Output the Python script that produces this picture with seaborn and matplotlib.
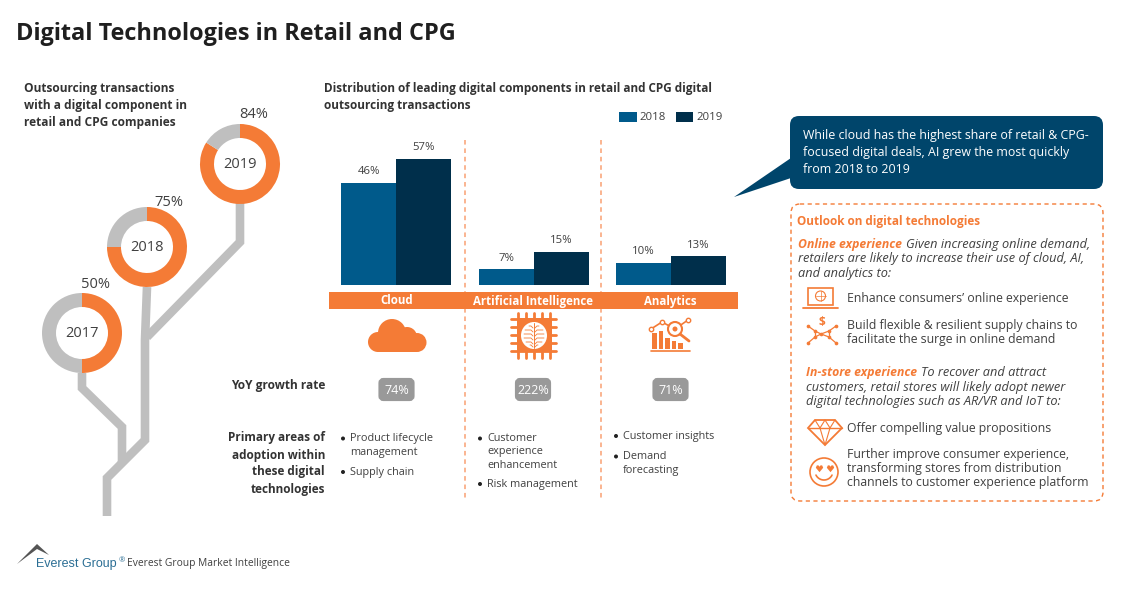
import numpy as np
import pandas as pd
import matplotlib.pyplot as plt
import seaborn as sns
from matplotlib.patches import Circle, Ellipse, FancyBboxPatch, Polygon, Rectangle

sns.set_theme(style="white")
plt.rcParams['font.family'] = ['Open Sans', 'DejaVu Sans']

# data
years = ['2017', '2018', '2019']
digital_share = [50, 75, 84]
categories = ['Cloud', 'Artificial Intelligence', 'Analytics']
share_2018 = [46, 7, 10]
share_2019 = [57, 15, 13]
growth_rate = ['74%', '222%', '71%']

ORANGE = '#F47B36'
GREY = '#BFBFBF'
TEXT = '#404040'
BLUE = '#005A8B'
NAVY = '#002F4B'

W, H = 1130, 591
fig = plt.figure(figsize=(W / 100, H / 100), dpi=100)


def box(left, top, right, bottom):
    return [left / W, 1 - bottom / H, (right - left) / W, (bottom - top) / H]


# full figure axes in pixels, for everything around the charts
bg = fig.add_axes([0, 0, 1, 1])
bg.set_xlim(0, W)
bg.set_ylim(H, 0)
bg.axis('off')


def txt(x, y, s, size=9, color=TEXT, weight='normal', style='normal', ha='left'):
    bg.text(x, y + 1, s, fontsize=size, color=color, fontweight=weight, fontstyle=style,
            ha=ha, va='center')


txt(16, 33, 'Digital Technologies in Retail and CPG', size=16.9, color='#1F1F1F', weight='bold')

# tree behind the donuts
tree = [
    ([82, 82, 122, 122], [373, 388, 427, 462]),
    ([147, 145, 145, 107, 107], [287, 340, 440, 478, 516]),
    ([240, 240, 147], [203, 242, 337]),
]
for xs, ys in tree:
    bg.plot(xs, ys, color=GREY, lw=6.2, solid_joinstyle='miter', solid_capstyle='butt')

for i, line in enumerate(['Outsourcing transactions', 'with a digital component in', 'retail and CPG companies']):
    txt(24.5, 87.5 + i * 17, line, size=8.6, color='#333333', weight='bold')

# donuts
centers = [(82, 333), (147, 247), (240, 164)]
label_pos = [(96, 284), (169, 201), (254, 114)]
for year, share, (cx, cy), (lx, ly) in zip(years, digital_share, centers, label_pos):
    ax = fig.add_axes(box(cx - 40, cy - 40, cx + 40, cy + 40))
    ax.pie([share, 100 - share], colors=[ORANGE, GREY], startangle=90, counterclock=False,
           radius=1, wedgeprops=dict(width=0.35, edgecolor='none'))
    ax.set_xlim(-1, 1)
    ax.set_ylim(-1, 1)
    ax.patch.set_alpha(0)
    ax.text(0, -0.02, year, fontsize=10.5, color=TEXT, ha='center', va='center')
    txt(lx, ly, f'{share}%', size=10.5, ha='center')

# bar chart
for i, line in enumerate(['Distribution of leading digital components in retail and CPG digital',
                          'outsourcing transactions']):
    txt(324, 87.5 + i * 17.5, line, size=8.5, color='#333333', weight='bold')

df = pd.DataFrame({
    'category': categories * 2,
    'year': ['2018'] * 3 + ['2019'] * 3,
    'share': share_2018 + share_2019,
})
bar_ax = fig.add_axes(box(327.5, 135, 740, 285))
sns.barplot(data=df, x='category', y='share', hue='year', palette=[BLUE, NAVY],
            width=0.8, gap=0, saturation=1, linewidth=0, ax=bar_ax)
bar_ax.set_xlim(-0.5, 2.5)
bar_ax.set_ylim(0, 67.6)
bar_ax.patch.set_alpha(0)
bar_ax.axis('off')
for cont in bar_ax.containers:
    bar_ax.bar_label(cont, fmt='%d%%', padding=4, fontsize=8.2, color=TEXT)
bar_ax.legend(loc='center left', bbox_to_anchor=(619 / W, 1 - 117.5 / H), bbox_transform=fig.transFigure,
              ncol=2, frameon=False, fontsize=8.2, handlelength=1.55, handleheight=1.0,
              handletextpad=0.25, columnspacing=0.85, borderpad=0, borderaxespad=0, labelcolor=TEXT)

# separators and band
for x in [465, 601]:
    bg.plot([x, x], [140, 500], color='#F9A173', lw=1.1, dashes=(3, 2.5), zorder=1)
bg.add_patch(Rectangle((329, 292), 409, 17, color=ORANGE, lw=0, zorder=2))
band_x = [396.5, 533, 670.5]
for x, cat in zip(band_x, categories):
    bg.text(x, 301, cat, fontsize=8.3, color='white', fontweight='bold', ha='center', va='center', zorder=3)

# growth rates
txt(325, 385, 'YoY growth rate', size=8.6, color='#333333', weight='bold', ha='right')
for x, val in zip(band_x, growth_rate):
    bg.add_patch(FancyBboxPatch((x - 16, 380), 32, 19, boxstyle='round,pad=0,rounding_size=3',
                                fc='#999999', ec='#999999', lw=3))
    txt(x, 389, val, size=9, color='white', ha='center')

# primary areas
for i, line in enumerate(['Primary areas of', 'adoption within', 'these digital', 'technologies']):
    txt(325, 437 + i * 17, line, size=8.5, color='#333333', weight='bold', ha='right')

bullets = [
    (343, [(350, 437.5, True, 'Product lifecycle'), (350, 452, False, 'management'), (350, 471, True, 'Supply chain')]),
    (480, [(487, 437.5, True, 'Customer'), (487, 450.5, False, 'experience'), (487, 464, False, 'enhancement'), (487, 483, True, 'Risk management')]),
    (616, [(623, 435, True, 'Customer insights'), (623, 455.5, True, 'Demand'), (623, 469, False, 'forecasting')]),
]
for bx, rows in bullets:
    for x, y, dot, line in rows:
        if dot:
            bg.add_patch(Circle((bx, y + 1), 2, color='#222222', lw=0))
        txt(x, y, line, size=7.8)

# icons in the middle column
cloud = [Circle((378, 342), 10), Circle((392, 333), 14), Circle((407, 337), 10), Circle((417, 342.5), 9.5),
         Rectangle((378, 340), 39, 12)]
for p in cloud:
    p.set(color=ORANGE, lw=0)
    bg.add_patch(p)

bg.add_patch(FancyBboxPatch((517, 318), 35, 34, boxstyle='round,pad=0,rounding_size=3', fc=ORANGE, ec='none'))
for d in np.linspace(-16, 16, 5):
    bg.plot([534 + d, 534 + d], [313, 358], color=ORANGE, lw=2.0, zorder=1)
    bg.plot([511, 556], [335 + d, 335 + d], color=ORANGE, lw=2.0, zorder=1)
bg.add_patch(Ellipse((534, 335.5), 26, 27, fc='white', ec='none', zorder=3))
bg.plot([534, 534], [323, 348], color=ORANGE, lw=0.7, zorder=4)
for dy, dx in [(-9, 5), (-5, 9), (-1, 10), (3, 10), (7, 8), (10, 4)]:
    bg.plot([534 - dx, 534 - 3, 534 - 1], [335 + dy, 335 + dy, 335 + dy + 2], color=ORANGE, lw=0.6, zorder=4)
    bg.plot([534 + dx, 534 + 3, 534 + 1], [335 + dy, 335 + dy, 335 + dy + 2], color=ORANGE, lw=0.6, zorder=4)

bg.plot([651, 690], [351, 351], color=ORANGE, lw=1.2)
for x, top in zip([652, 658.5, 665, 671.5, 678], [333, 331, 338, 341, 343]):
    bg.add_patch(Rectangle((x, top), 4.5, 349 - top, color=ORANGE, lw=0))
bg.plot([651, 662, 675, 688], [329, 322, 329, 320], color=ORANGE, lw=1.2)
bg.scatter([651, 662, 688], [329, 322, 320], s=10, fc='white', ec=ORANGE, lw=1, zorder=4)
bg.add_patch(Circle((675, 329), 7, fc='white', ec=ORANGE, lw=1.5, zorder=3))
bg.add_patch(Circle((675, 329), 2.5, fc=ORANGE, lw=0, zorder=4))
bg.plot([680, 689], [334, 341], color=ORANGE, lw=2, zorder=3)

# callout
bg.add_patch(FancyBboxPatch((790, 116), 313, 73, boxstyle='round,pad=0,rounding_size=9', fc='#00456B', ec='none'))
bg.add_patch(Polygon([(734, 197), (791, 158), (791, 178)], fc='#00456B', ec='none'))
for i, line in enumerate(['While cloud has the highest share of retail & CPG-',
                          'focused digital deals, AI grew the most quickly',
                          'from 2018 to 2019']):
    txt(803, 134.5 + i * 17, line, size=8.9, color='white')

# outlook box
bg.add_patch(FancyBboxPatch((791, 204), 312, 297, boxstyle='round,pad=0,rounding_size=9', fc='none',
                            ec=ORANGE, lw=1, ls=(0, (3, 2.5))))
txt(797, 220, 'Outlook on digital technologies', size=8.5, color=ORANGE, weight='bold')

txt(798, 243.5, 'Online experience', size=8.8, color=ORANGE, weight='bold', style='italic')
txt(906, 243.5, 'Given increasing online demand,', size=9.2, style='italic')
txt(798, 257.5, 'retailers are likely to increase their use of cloud, AI,', size=9.2, style='italic')
txt(798, 272, 'and analytics to:', size=9.2, style='italic')
txt(847, 297.5, 'Enhance consumers\u2019 online experience', size=8.85)
txt(847, 325, 'Build flexible & resilient supply chains to', size=8.85)
txt(847, 339, 'facilitate the surge in online demand', size=8.85)

txt(806, 371.5, 'In-store experience', size=8.8, color=ORANGE, weight='bold', style='italic')
txt(921, 371.5, 'To recover and attract', size=9.2, style='italic')
txt(806, 386, 'customers, retail stores will likely adopt newer', size=9.2, style='italic')
txt(806, 400, 'digital technologies such as AR/VR and IoT to:', size=9.2, style='italic')
txt(847, 427.5, 'Offer compelling value propositions', size=8.85)
txt(847, 453.5, 'Further improve consumer experience,', size=8.85)
txt(847, 467.5, 'transforming stores from distribution', size=8.85)
txt(847, 481.5, 'channels to customer experience platform', size=8.85)

# laptop
bg.add_patch(Rectangle((808, 288), 25, 17, fc='none', ec=ORANGE, lw=1.2))
bg.plot([803, 838], [308, 308], color=ORANGE, lw=1.3)
bg.add_patch(Circle((820.5, 296), 5, fc='none', ec=ORANGE, lw=0.8))
bg.plot([815.5, 825.5], [296, 296], color=ORANGE, lw=0.5)
bg.plot([820.5, 820.5], [291, 301], color=ORANGE, lw=0.5)

# network
net_x = [808, 815, 808, 815, 829, 836, 829, 836, 821]
net_y = [326, 331, 343, 337, 337, 343, 331, 326, 334]
for a, b in [(0, 1), (1, 3), (2, 3), (3, 8), (1, 8), (8, 6), (8, 4), (4, 6), (6, 7), (4, 5)]:
    bg.plot([net_x[a], net_x[b]], [net_y[a], net_y[b]], color=ORANGE, lw=0.9)
bg.scatter(net_x, net_y, s=7, color=ORANGE, lw=0)
txt(822, 321, '$', size=8.5, color=ORANGE, weight='bold', ha='center')

# diamond
bg.add_patch(Polygon([(808, 428), (815, 420), (835, 420), (842, 428), (825, 445)], fc='none', ec=ORANGE, lw=1.3))
bg.plot([808, 842], [428, 428], color=ORANGE, lw=1)
bg.plot([815, 820, 825, 830, 835], [420, 428, 420, 428, 420], color=ORANGE, lw=0.8)
bg.plot([820, 825, 830], [428, 445, 428], color=ORANGE, lw=0.8)

# smiley
bg.add_patch(Circle((824, 472), 14, fc='none', ec=ORANGE, lw=1.2))
heart = [(0, -1), (1, 0.2), (0.75, 0.8), (0.35, 0.9), (0, 0.5), (-0.35, 0.9), (-0.75, 0.8), (-1, 0.2)]
bg.scatter([818.5, 830], [468, 468], marker=heart, s=28, color=ORANGE, lw=0)
t = np.linspace(0.15, 0.85, 30) * np.pi
bg.plot(824 + 9 * np.cos(t), 472 + 9 * np.sin(t) - 1, color=ORANGE, lw=1.2)

# logo
bg.add_patch(Polygon([(17, 564), (37, 544), (49, 555), (37, 549)], fc='#555555', ec='none'))
bg.text(36, 563.5, 'Everest Group', fontsize=9.0, color='#2B6E94', family='Liberation Sans', ha='left', va='center')
bg.text(119, 561, '\u00ae', fontsize=5.5, color='#2B6E94', ha='left', va='center')
txt(127, 562.5, 'Everest Group Market Intelligence', size=7.4)

fig.savefig('out.png', dpi=100, facecolor='white')
